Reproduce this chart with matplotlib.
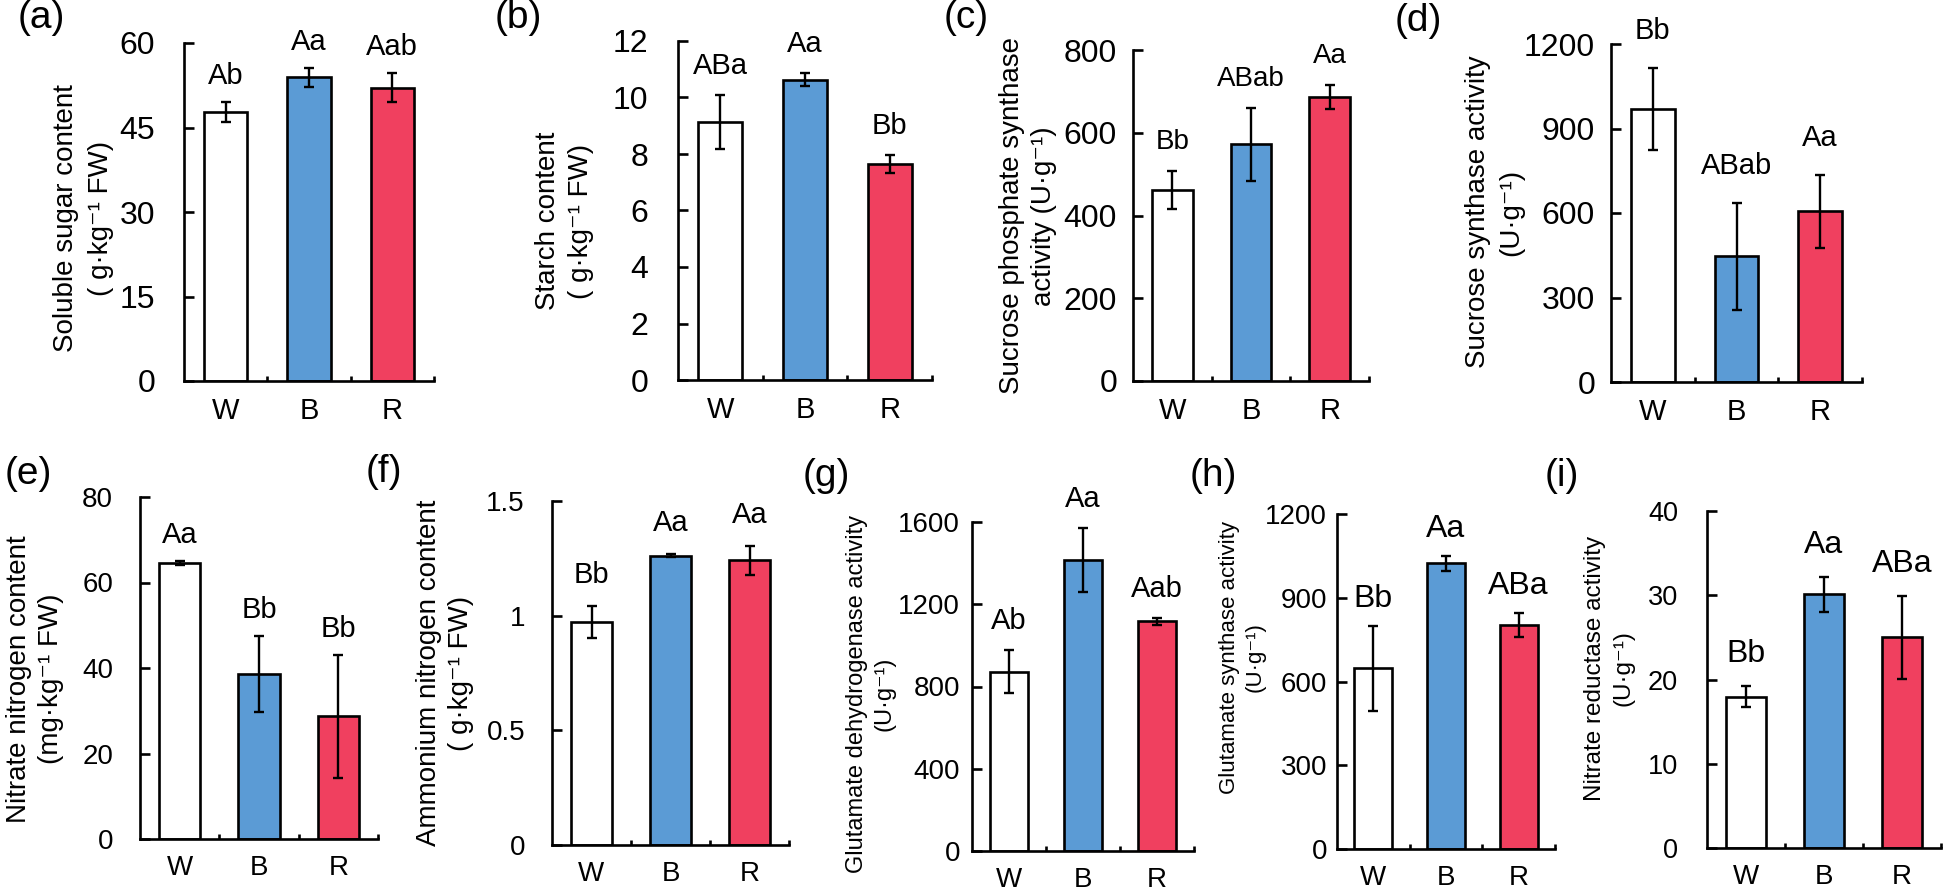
import matplotlib
matplotlib.use('Agg')
import matplotlib.pyplot as plt

plt.rcParams['font.family'] = ['Liberation Sans', 'DejaVu Sans']

# ---------------- data ----------------
groups = ['W', 'B', 'R']
bar_colors = ['#FFFFFF', '#5B9BD5', '#F0405F']

soluble_sugar = [47.8, 53.9, 52.1]
soluble_sugar_err = [1.8, 1.7, 2.6]
soluble_sugar_sig = ['Ab', 'Aa', 'Aab']
soluble_sugar_ticks = [0, 15, 30, 45, 60]

starch = [9.14, 10.63, 7.64]
starch_err = [0.95, 0.22, 0.32]
starch_sig = ['ABa', 'Aa', 'Bb']
starch_ticks = [0, 2, 4, 6, 8, 10, 12]

sps = [461, 572, 687]
sps_err = [46, 88, 29]
sps_sig = ['Bb', 'ABab', 'Aa']
sps_ticks = [0, 200, 400, 600, 800]

ss = [969, 446, 606]
ss_err = [146, 189, 129]
ss_sig = ['Bb', 'ABab', 'Aa']
ss_ticks = [0, 300, 600, 900, 1200]

nitrate = [64.6, 38.7, 28.7]
nitrate_err = [0.4, 8.9, 14.4]
nitrate_sig = ['Aa', 'Bb', 'Bb']
nitrate_ticks = [0, 20, 40, 60, 80]

ammonium = [0.971, 1.262, 1.241]
ammonium_err = [0.069, 0.008, 0.063]
ammonium_sig = ['Bb', 'Aa', 'Aa']
ammonium_ticks = [0, 0.5, 1, 1.5]
ammonium_ticklabels = ['0', '0.5', '1', '1.5']

gdh = [872, 1417, 1117]
gdh_err = [104, 156, 18]
gdh_sig = ['Ab', 'Aa', 'Aab']
gdh_ticks = [0, 400, 800, 1200, 1600]

gogat = [647, 1023, 801]
gogat_err = [151, 28, 43]
gogat_sig = ['Bb', 'Aa', 'ABa']
gogat_ticks = [0, 300, 600, 900, 1200]

nr = [17.97, 30.09, 25.0]
nr_err = [1.2, 2.1, 4.9]
nr_sig = ['Bb', 'Aa', 'ABa']
nr_ticks = [0, 10, 20, 30, 40]

panels = [
    dict(tag='(a)', vals=soluble_sugar, err=soluble_sugar_err, sig=soluble_sugar_sig,
         ticks=soluble_sugar_ticks, ticklabels=None,
         ylabel='Soluble sugar content\n( g·kg⁻¹ FW)'),
    dict(tag='(b)', vals=starch, err=starch_err, sig=starch_sig,
         ticks=starch_ticks, ticklabels=None,
         ylabel='Starch content\n( g·kg⁻¹ FW)'),
    dict(tag='(c)', vals=sps, err=sps_err, sig=sps_sig,
         ticks=sps_ticks, ticklabels=None,
         ylabel='Sucrose phosphate synthase\nactivity (U·g⁻¹)'),
    dict(tag='(d)', vals=ss, err=ss_err, sig=ss_sig,
         ticks=ss_ticks, ticklabels=None,
         ylabel='Sucrose synthase activity\n(U·g⁻¹)'),
    dict(tag='(e)', vals=nitrate, err=nitrate_err, sig=nitrate_sig,
         ticks=nitrate_ticks, ticklabels=None,
         ylabel='Nitrate nitrogen content\n(mg·kg⁻¹ FW)'),
    dict(tag='(f)', vals=ammonium, err=ammonium_err, sig=ammonium_sig,
         ticks=ammonium_ticks, ticklabels=ammonium_ticklabels,
         ylabel='Ammonium nitrogen content\n( g·kg⁻¹ FW)'),
    dict(tag='(g)', vals=gdh, err=gdh_err, sig=gdh_sig,
         ticks=gdh_ticks, ticklabels=None,
         ylabel='Glutamate dehydrogenase activity\n(U·g⁻¹)'),
    dict(tag='(h)', vals=gogat, err=gogat_err, sig=gogat_sig,
         ticks=gogat_ticks, ticklabels=None,
         ylabel='Glutamate synthase activity\n(U·g⁻¹)'),
    dict(tag='(i)', vals=nr, err=nr_err, sig=nr_sig,
         ticks=nr_ticks, ticklabels=None,
         ylabel='Nitrate reductase activity\n(U·g⁻¹)'),
]

# ---------------- layout (pixels in a 1944x893 canvas) ----------------
W, H = 1944, 893
# axes box: left, top, right, bottom
boxes = [
    (184, 43, 434, 381), (678, 41, 932, 380), (1133, 50, 1369, 381), (1611, 44, 1862, 382),
    (140, 497, 378, 839), (552, 501, 789, 845), (972, 522, 1194, 851), (1337, 514, 1555, 849),
    (1707, 511, 1941, 848),
]
tag_pos = [(18, 0), (495, 0), (944, 0), (1395, 3),
           (5, 456), (366, 454), (803, 458), (1190, 458), (1545, 458)]
ylabel_size = [20, 20, 20, 20, 20, 20, 17, 16, 17.5]
ylabel_x = [112, 592, 1055, 1522, 62, 472, 893, 1264, 1632]   # right edge of label block (px)
ylabel_yc = [218, 221, 216, 212, 679, 673, 694, 657, 668]      # centre of label (px)
ylabel_ls = [1.45, 1.35, 1.3, 1.35, 1.3, 1.3, 1.27, 1.33, 1.38]
ytick_size = [23, 23, 23, 23, 20, 20, 20, 20, 19.5]
xtick_size = [21, 21, 21, 21, 20, 20, 20, 20, 20]
ytick_pad_px = [29, 30, 16, 16, 27, 27, 12, 10, 29]
sig_size = [21, 21, 20, 21, 21, 21, 21, 23, 23]
sig_off_px = [18, 21, 22, 29, 18, 23, 21, 19, 24]

PX2PT = 72 / 100.0
LW = 1.9

fig = plt.figure(figsize=(W / 100, H / 100), dpi=100)
fig.patch.set_facecolor('white')

for k, p in enumerate(panels):
    l, t, r, b = boxes[k]
    ax = fig.add_axes([l / W, 1 - b / H, (r - l) / W, (b - t) / H])
    x = list(range(len(groups)))
    ax.bar(x, p['vals'], width=0.52, color=bar_colors, edgecolor='black',
           linewidth=LW, zorder=2)
    ax.errorbar(x, p['vals'], yerr=p['err'], fmt='none', ecolor='black',
                elinewidth=1.7, capsize=3.8, capthick=1.7, zorder=3)
    for i, (v, e, s) in enumerate(zip(p['vals'], p['err'], p['sig'])):
        ax.annotate(s, xy=(i, v + e), xytext=(0, sig_off_px[k] * PX2PT),
                    textcoords='offset points', ha='center', va='baseline',
                    fontsize=sig_size[k], annotation_clip=False)
    ax.set_xlim(-0.5, 2.5)
    ax.set_ylim(0, p['ticks'][-1])
    ax.set_yticks(p['ticks'])
    if p['ticklabels'] is not None:
        ax.set_yticklabels(p['ticklabels'])
    ax.set_xticks(x)
    ax.set_xticklabels(groups)
    ax.set_xticks([0.5, 1.5, 2.5], minor=True)
    for side in ('top', 'right'):
        ax.spines[side].set_visible(False)
    for side in ('left', 'bottom'):
        ax.spines[side].set_linewidth(LW)
    ax.tick_params(axis='y', direction='in', length=7, width=LW,
                   labelsize=ytick_size[k], pad=ytick_pad_px[k] * PX2PT)
    ax.tick_params(axis='x', which='major', length=0, labelsize=xtick_size[k],
                   pad=16 * PX2PT)
    ax.tick_params(axis='x', which='minor', direction='in', length=3.6, width=LW)
    ax.set_ylabel(p['ylabel'], fontsize=ylabel_size[k], linespacing=ylabel_ls[k])
    ax.yaxis.set_label_coords((ylabel_x[k] + 2 - l) / (r - l),
                              1 - (ylabel_yc[k] - t) / (b - t))
    ax.set_facecolor('none')
    tx, ty = tag_pos[k]
    fig.text(tx / W, 1 - ty / H, p['tag'], ha='left', va='top', fontsize=28)

fig.savefig('out.png', dpi=100, facecolor='white')
